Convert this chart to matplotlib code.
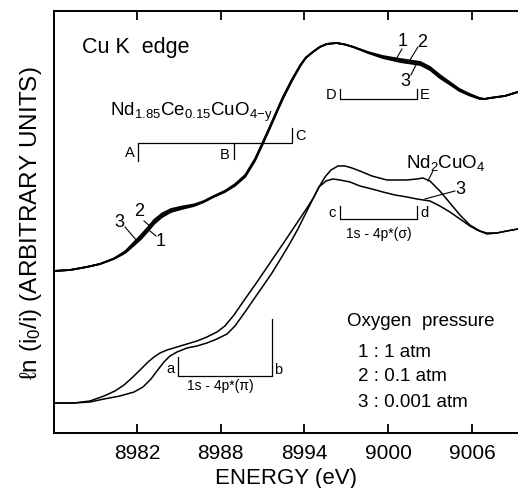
import matplotlib
matplotlib.use('Agg')
import matplotlib.pyplot as plt

plt.rcParams['font.family'] = ['Liberation Sans', 'DejaVu Sans']
plt.rcParams['mathtext.fontset'] = 'custom'
plt.rcParams['mathtext.rm'] = 'Liberation Sans'
plt.rcParams['mathtext.it'] = 'Liberation Sans:italic'

# Cu K-edge XANES (ln(i0/i), arbitrary units)
# upper set: Nd1.85Ce0.15CuO4-y annealed at 1, 0.1, 0.001 atm O2
energy_top = [8976.05, 8977.2, 8978.4, 8979.35, 8980.35, 8981.15, 8981.57, 8982.29,
              8982.8, 8983.22, 8983.8, 8984.44, 8985.2, 8986.1, 8986.8, 8987.5,
              8988.3, 8989.0, 8989.75, 8990.45, 8990.95, 8991.5, 8992.45, 8993.1,
              8993.7, 8994.1, 8994.6, 8995.1, 8995.6, 8996.3, 8996.9, 8997.5,
              8998.55, 8999.6, 9000.85, 9002.3, 9003.0, 9003.7, 9004.4, 9005.1,
              9005.85, 9006.55, 9006.93, 9007.3, 9008.35, 9009.3]
absorb_1atm = [162, 163, 166, 169, 174, 180, 185, 194, 202, 209, 216, 221, 224, 227,
               231, 236, 241, 247, 256, 272, 287, 304, 334, 352, 367, 375, 381, 386,
               389, 390, 388.5, 386, 381, 377, 374, 371, 366, 358, 351, 344, 339, 335,
               334, 335, 337, 341]
absorb_01atm = [162, 163, 166, 169, 174.3, 180.8, 186.3, 196, 204, 211, 217.8, 222.5,
                225.2, 227.8, 231.5, 236.5, 241.6, 247.8, 257, 273, 288, 305, 335,
                352.8, 367.5, 375.3, 381, 386, 389, 390, 388.5, 386, 380.5, 376, 372.5,
                369.5, 364.5, 356.5, 349.8, 343, 338.2, 334.5, 334, 335, 337, 341]
absorb_0001atm = [162, 163, 166, 169, 174.6, 181.6, 187.6, 198, 206, 213, 219.6, 224,
                  226.4, 228.6, 232, 237, 242.2, 248.6, 258, 274, 289, 306, 336, 353.6,
                  368, 375.6, 381, 386, 389, 390, 388.5, 386, 380, 375, 371, 368, 363,
                  355, 348.6, 342, 337.4, 334, 334, 335, 337, 341]

# lower set: sample 3 compared with Nd2CuO4
energy_s3 = [8976.05, 8977.49, 8978.63, 8979.64, 8980.42, 8981.07, 8981.71, 8982.29,
             8982.79, 8983.22, 8983.65, 8984.15, 8984.87, 8985.58, 8986.3, 8987.01,
             8987.73, 8988.3, 8988.95, 8989.74, 8990.6, 8991.67, 8992.6, 8993.46,
             8994.18, 8994.68, 8995.04, 8995.54, 8996.04, 8996.54, 8997.26, 8997.97,
             8998.83, 8999.62, 9000.48, 9001.34, 9002.06, 9002.99, 9003.7, 9004.42,
             9005.14, 9005.85, 9006.36, 9007.07, 9007.79, 9008.5, 9009.29]
absorb_s3 = [30, 30, 32, 37, 42, 48, 56, 64, 71, 76, 80, 83, 86, 89, 92, 96, 101, 107,
             118, 134, 151, 173, 192, 210, 225, 236, 246, 252, 254, 253, 251, 247, 244,
             241, 238, 236, 234, 232, 227, 221, 214, 207, 203, 199, 200, 202, 204]
energy_nd2 = [8976.05, 8977.49, 8978.63, 8979.64, 8980.78, 8981.79, 8982.43, 8983.0,
              8983.43, 8983.93, 8984.36, 8984.87, 8985.58, 8986.3, 8987.01, 8987.73,
              8988.45, 8989.02, 8989.74, 8990.38, 8991.03, 8991.67, 8992.24, 8992.89,
              8993.53, 8994.1, 8994.6, 8995.04, 8995.47, 8995.9, 8996.4, 8996.9, 8997.4,
              8997.97, 8998.83, 8999.9, 9001.34, 9002.06, 9002.49, 9002.99, 9003.7,
              9004.42, 9005.14, 9005.85, 9006.57, 9007.07, 9007.79, 9008.5, 9009.29]
absorb_nd2 = [30, 30, 31, 34, 37, 41, 46, 54, 62, 71, 77, 81, 85, 87, 90, 94, 99, 107,
              121, 134, 147, 160, 173, 188, 204, 220, 234, 246, 256, 263, 267, 267, 265,
              262, 257, 253, 253, 254, 255, 252, 242, 230, 218, 208, 202, 200, 200, 202, 204]

xticks = [8982, 8988, 8994, 9000, 9006]
pressure_labels = ['1 : 1 atm', '2 : 0.1 atm', '3 : 0.001 atm']

fig = plt.figure(figsize=(5.18, 4.89), dpi=100)
ax = fig.add_axes([0.1042, 0.1125, 0.8958, 0.863])

for yy in (absorb_1atm, absorb_01atm, absorb_0001atm):
    ax.plot(energy_top, yy, color='k', lw=1.3, solid_joinstyle='round',
            solid_capstyle='round')
ax.plot(energy_s3, absorb_s3, color='k', lw=1.1, solid_joinstyle='round')
ax.plot(energy_nd2, absorb_nd2, color='k', lw=1.1, solid_joinstyle='round')

ax.set_xlim(8976.05, 9009.3)
ax.set_ylim(0, 422)
ax.set_xticks(xticks)
ax.set_yticks([])
ax.tick_params(axis='x', direction='in', top=True, length=6.5, width=1.3,
               labelsize=15, pad=7)
for s in ('left', 'bottom', 'top'):
    ax.spines[s].set_linewidth(1.4)
ax.spines['right'].set_visible(False)

ax.set_xlabel('ENERGY (eV)', fontsize=16, labelpad=4)
ax.set_ylabel('ℓn (i$_0$/i) (ARBITRARY UNITS)', fontsize=17.5, labelpad=7)


def bracket(x0, x1, y, t0, t1):
    # horizontal bar with end ticks running to t0 / t1
    ax.plot([x0, x0, x1, x1], [t0, y, y, t1], color='k', lw=0.9)


bracket(8982.07, 8993.1, 290, 272, 305)
ax.plot([8988.95, 8988.95], [290, 274], color='k', lw=0.9)
bracket(8996.54, 9002.06, 334, 344, 344)
bracket(8996.54, 9002.06, 214, 227, 227)
bracket(8984.94, 8991.67, 57, 76, 114)

small = dict(fontsize=10.5, va='center')
ax.text(8981.86, 281, 'A', ha='right', **small)
ax.text(8988.66, 279, 'B', ha='right', **small)
ax.text(8993.32, 298, 'C', ha='left', **small)
ax.text(8996.26, 339, 'D', ha='right', **small)
ax.text(9002.27, 339, 'E', ha='left', **small)
ax.text(8996.26, 221, 'c', ha='right', **small)
ax.text(9002.27, 221, 'd', ha='left', **small)
ax.text(8984.72, 65, 'a', ha='right', **small)
ax.text(8991.81, 64, 'b', ha='left', **small)
ax.text(8999.3, 200, '1s - 4p*(σ)', ha='center', va='center', fontsize=10)
ax.text(8988.0, 48, '1s - 4p*(π)', ha='center', va='center', fontsize=10)

ax.text(8978.06, 386, 'Cu K  edge', fontsize=15.5, va='center')
ax.text(8980.07, 322, 'Nd$_{1.85}$Ce$_{0.15}$CuO$_{\\mathrm{4{-}y}}$', fontsize=13.5,
        va='center')
ax.text(9004.13, 271, 'Nd$_2$CuO$_4$', fontsize=13.5, ha='center', va='center')

# curve labels with leader lines
num = dict(fontsize=13, ha='center', va='center')
ax.text(9001.05, 392, '1', **num)
ax.text(9002.42, 391, '2', **num)
ax.text(9001.2, 352, '3', **num)
ax.plot([9000.98, 9000.62], [384, 375], color='k', lw=0.8)
ax.plot([9002.13, 9001.56], [386, 373], color='k', lw=0.8)
ax.plot([9001.63, 9002.06], [358, 370], color='k', lw=0.8)

ax.text(8980.71, 211, '3', **num)
ax.text(8982.14, 222, '2', **num)
ax.text(8983.72, 192, '1', **num)
ax.plot([8981.14, 8982.0], [206, 192], color='k', lw=0.8)
ax.plot([8982.5, 8983.0], [212, 206], color='k', lw=0.8)
ax.plot([8983.36, 8982.93], [197, 202], color='k', lw=0.8)

ax.plot([9003.2, 9002.85], [262, 252], color='k', lw=0.8)
ax.text(9005.14, 244, '3', **num)
ax.plot([9004.78, 9002.63], [242, 234], color='k', lw=0.8)

ax.text(8997.04, 112, 'Oxygen  pressure', fontsize=13.5, va='center')
for lab, yy in zip(pressure_labels, [81, 57, 31]):
    ax.text(8997.83, yy, lab, fontsize=13.5, va='center')

fig.savefig('out.png', dpi=100)
